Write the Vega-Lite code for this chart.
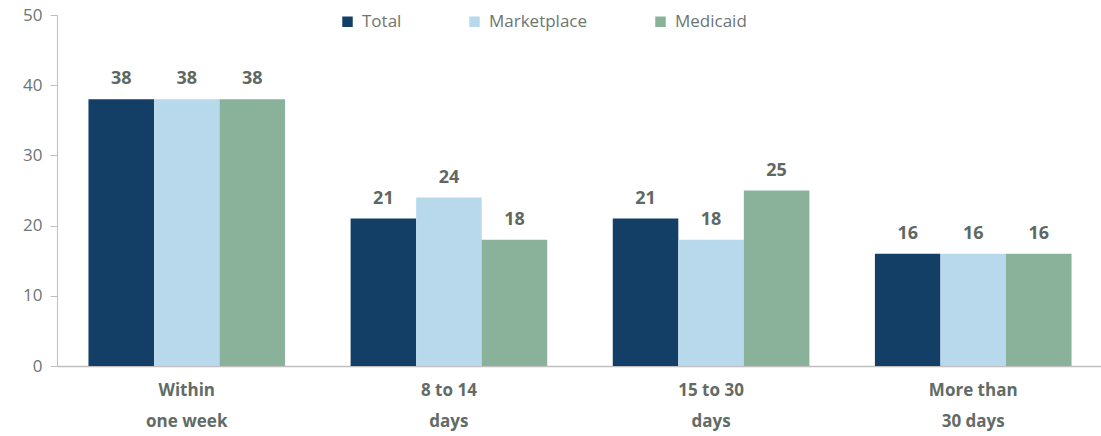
{
  "$schema": "https://vega.github.io/schema/vega-lite/v6.json",
  "width": 1046,
  "height": 351,
  "padding": {"left": 22, "top": 6, "right": 0, "bottom": 6},
  "autosize": {"type": "pad"},
  "config": {"view": {"stroke": null}, "font": "Open Sans"},
  "data": {"values": [
    {"cat": "Within|one week", "series": "Total", "value": 38},
    {"cat": "Within|one week", "series": "Marketplace", "value": 38},
    {"cat": "Within|one week", "series": "Medicaid", "value": 38},
    {"cat": "8 to 14|days", "series": "Total", "value": 21},
    {"cat": "8 to 14|days", "series": "Marketplace", "value": 24},
    {"cat": "8 to 14|days", "series": "Medicaid", "value": 18},
    {"cat": "15 to 30|days", "series": "Total", "value": 21},
    {"cat": "15 to 30|days", "series": "Marketplace", "value": 18},
    {"cat": "15 to 30|days", "series": "Medicaid", "value": 25},
    {"cat": "More than|30 days", "series": "Total", "value": 16},
    {"cat": "More than|30 days", "series": "Marketplace", "value": 16},
    {"cat": "More than|30 days", "series": "Medicaid", "value": 16}
  ]},
  "encoding": {
    "x": {"field": "cat", "type": "nominal", "sort": null,
      "scale": {"paddingInner": 0.25, "paddingOuter": 0.12},
      "axis": {"title": null, "labelAngle": 0, "ticks": false, "domainColor": "#bfbfbf", "domainWidth": 1.5,
        "labelExpr": "split(datum.label, '|')", "labelFontSize": 17, "labelFontWeight": "bold",
        "labelColor": "#626b66", "labelPadding": 16, "labelLineHeight": 31}},
    "xOffset": {"field": "series", "type": "nominal", "sort": ["Total", "Marketplace", "Medicaid"], "scale": {"paddingInner": 0, "paddingOuter": 0}},
    "y": {"field": "value", "type": "quantitative",
      "scale": {"domain": [0, 50]},
      "axis": {"title": null, "values": [0, 10, 20, 30, 40, 50], "grid": false, "domainColor": "#bfbfbf", "tickColor": "#bfbfbf",
        "tickSize": 7, "labelFontSize": 17, "labelColor": "#6d7571", "labelPadding": 8}}
  },
  "layer": [
    {"mark": {"type": "bar"},
      "encoding": {"color": {"field": "series", "type": "nominal", "sort": ["Total", "Marketplace", "Medicaid"],
        "scale": {"domain": ["Total", "Marketplace", "Medicaid"], "range": ["#133f66", "#b8d8ec", "#8ab29b"]},
        "legend": {"title": null, "orient": "none", "direction": "horizontal", "legendX": 282, "legendY": -2,
          "symbolType": "square", "symbolSize": 110, "symbolStrokeWidth": 0, "labelFontSize": 17, "labelColor": "#6d7571",
          "columnPadding": 64, "labelOffset": 6}}}},
    {"mark": {"type": "text", "baseline": "bottom", "dy": -11, "fontSize": 18, "fontWeight": "bold", "color": "#5f6862"},
      "encoding": {"text": {"field": "value", "type": "quantitative"}}}
  ]
}
